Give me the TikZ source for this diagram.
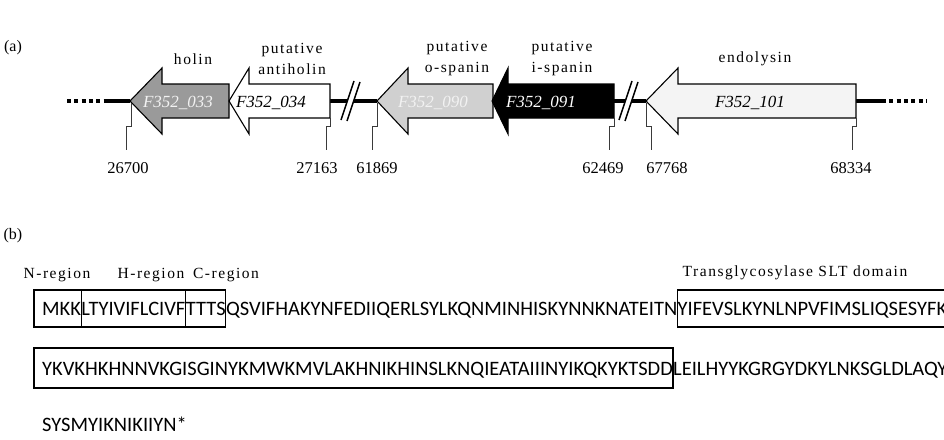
\documentclass[tikz,border=0pt]{standalone}
\usepackage{fontspec}
\setmainfont{Liberation Serif}
\newfontfamily\seqfont{Carlito}
\newfontfamily\lblfont[LetterSpace=10]{Liberation Serif}
\usepackage{tikz}
\usetikzlibrary{calc}
\definecolor{holingray}{HTML}{9A9A9A}
\definecolor{ospangray}{HTML}{D0D0D0}
\definecolor{endopale}{HTML}{F4F4F4}
\definecolor{namewhite}{HTML}{F2F2F2}
\definecolor{tickgray}{HTML}{3A3A3A}

\begin{document}
\begin{tikzpicture}[x=1pt, y=-1pt,
    backbone/.style={line width=4pt},
    dots/.style={line width=4pt, dash pattern=on 4pt off 3.3pt},
    gene/.style={draw=black, line width=1.1pt, line join=miter},
    genename/.style={font=\fontsize{17}{20}\selectfont\itshape, inner sep=0pt},
    role/.style={font=\lblfont\fontsize{15.5}{21}\selectfont, align=center, inner sep=0pt},
    tickline/.style={draw=tickgray, line width=0.8pt},
    coordlabel/.style={font=\fontsize{16.5}{20}\selectfont, inner sep=0pt},
    panel/.style={font=\fontsize{16}{20}\selectfont, inner sep=0pt},
    seq/.style={font=\seqfont\fontsize{20.5}{24}\selectfont, inner sep=0pt, anchor=base west},
    segbox/.style={draw=black, line width=1.1pt}
]
\useasboundingbox (0,0) rectangle (944,439);
\clip (0,0) rectangle (944,439);

% (a) gene map
\node[panel] (pa) at (13,48) {(a)};
\draw[dots] (67,101) -- (105,101);
\draw[dots] (882,101) -- (927,101);
\foreach \xa/\xb in {105/130, 330/377, 614/646, 856/882}
    \draw[backbone] (\xa,101) -- (\xb,101);
\foreach \xt/\xh/\xe/\col in {130/162/229/holingray, 229/249/330/white, 377/408/493/ospangray, 492/508/614/black, 646/678/856/endopale}
    \draw[gene, fill=\col] (\xt,101) -- (\xh,68) -- (\xh,84) -- (\xe,84) -- (\xe,118) -- (\xh,118) -- (\xh,134) -- cycle;
% breaks
\foreach \bx in {350,628} {
    \fill[white] (\bx-9,120) -- (\bx+4,81) -- (\bx+10,82) -- (\bx-3,121) -- cycle;
    \draw[line width=1.5pt] (\bx-9,120) -- (\bx+4,81);
    \draw[line width=1.5pt] (\bx-3,121) -- (\bx+10,82);
}

\node[genename, text=namewhite] (g033) at (178,103) {F352\_033};
\node[genename] (g034) at (271,103) {F352\_034};
\node[genename, text=namewhite] (g090) at (433,103) {F352\_090};
\node[genename, text=white] (g091) at (541,103) {F352\_091};
\node[genename] (g101) at (750,103) {F352\_101};

\node[role] (holin) at (193,59) {holin};
\node[role] (antiholin) at (292,58.5) {putative\\antiholin};
\node[role] (ospanin) at (457,58.5) {putative\\o-spanin};
\node[role] (ispanin) at (562,58.5) {putative\\i-spanin};
\node[role] (endolysin) at (755,59) {endolysin};

% coordinates
\foreach \xa/\ya/\xb/\num/\xn in {131/103/126/26700/128, 330/118/326/27163/317, 377/103/372/61869/377, 614/118/609/62469/603, 646/103/651/67768/667, 856/118/852/68334/851} {
    \draw[tickline] (\xa,\ya) -- (\xa,126) -- (\xb,126) -- (\xb,150);
    \node[coordlabel] (p\num) at (\xn,168) {\num};
}

% (b) sequence
\node[panel] (pb) at (13,236) {(b)};
\coordinate (top1) at (0,290);
\coordinate (bot1) at (0,327);
\coordinate (top2) at (0,348);
\coordinate (bot2) at (0,388);

\node[role] (nreg) at (57,275) {N-region};
\node[role] (hreg) at (151,275) {H-region};
\node[role] (creg) at (226,275) {C-region};
\node[role] (sltlab) at (795,273) {Transglycosylase SLT domain};

\node[seq] (s1) at (42,315) {MKK};
\node[seq] (s2) at (s1.base east) {LTYIVIFLCIVF};
\node[seq] (s3) at (s2.base east) {TTTS};
\node[seq] (s4) at (s3.base east) {QSVIFHAKYNFEDIIQERLSYLKQNMINHISKYNNKNATEITN};
\node[seq] (s5) at (s4.base east) {YIFEVSLKYNLNPVFIMSLIQSESYFK};
\draw[segbox] (34,290) rectangle (s1.east |- bot1);
\draw[segbox] (s1.east |- top1) rectangle (s2.east |- bot1);
\draw[segbox] (s2.east |- top1) rectangle (s3.east |- bot1);
\draw[segbox] (s5.west |- top1) rectangle (960,327);

\node[seq] (t1) at (42,375) {YKVKHKHNNVKGISGINYKMWKMVLAKHNIKHINSLKNQIEATAIIINYIKQKYKTSDD};
\node[seq] (t2) at (t1.base east) {LEILHYYKGRGYDKYLNKSGLDLAQY};
\draw[segbox] (34,348) rectangle (t1.east |- bot2);

\node[seq] (u1) at (42,431) {SYSMYIKNIKIIYN*};
\end{tikzpicture}
\end{document}
